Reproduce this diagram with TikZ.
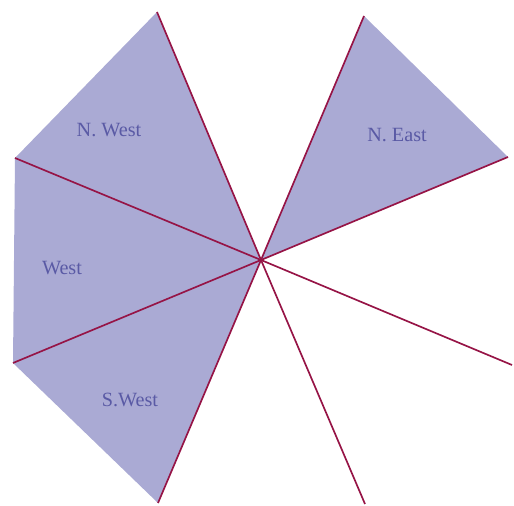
\documentclass[tikz,border=0pt]{standalone}
\usepackage{fontspec}
\setmainfont{Liberation Serif}
\usepackage{tikz}
\definecolor{sect}{RGB}{170,170,212}
\definecolor{ray}{RGB}{150,20,70}
\definecolor{lbl}{RGB}{90,90,165}

\begin{document}
\begin{tikzpicture}[
  x=0.02cm,y=-0.02cm,
  sector/.style={fill=sect,draw=none},
  rayline/.style={draw=ray,line width=0.95pt},
  lab/.style={font=\fontsize{11.5}{13}\selectfont,text=lbl,inner sep=1pt}
]
\useasboundingbox (0,0) rectangle (514,506);
% centre and ray ends
\coordinate (o)   at (261,260);
\coordinate (nnw) at (157,12);
\coordinate (nne) at (364,16);
\coordinate (ene) at (508,157);
\coordinate (ese) at (512,365);
\coordinate (sse) at (365,504);
\coordinate (ssw) at (158,503);
\coordinate (wsw) at (13,363);
\coordinate (wnw) at (15,158);
% filled sectors
\fill[sector] (o) -- (nnw) -- (wnw) -- cycle;
\fill[sector] (o) -- (wnw) -- (wsw) -- cycle;
\fill[sector] (o) -- (wsw) -- (ssw) -- cycle;
\fill[sector] (o) -- (nne) -- (ene) -- cycle;
% rays
\foreach \e in {nnw,nne,ene,ese,sse,ssw,wsw,wnw} {\draw[rayline] (o) -- (\e);}
% labels
\node[lab] (nw) at (109,130) {N. West};
\node[lab] (ne) at (397,135) {N. East};
\node[lab] (w)  at (62,268)  {West};
\node[lab] (sw) at (130,400) {S.West};
\end{tikzpicture}
\end{document}
